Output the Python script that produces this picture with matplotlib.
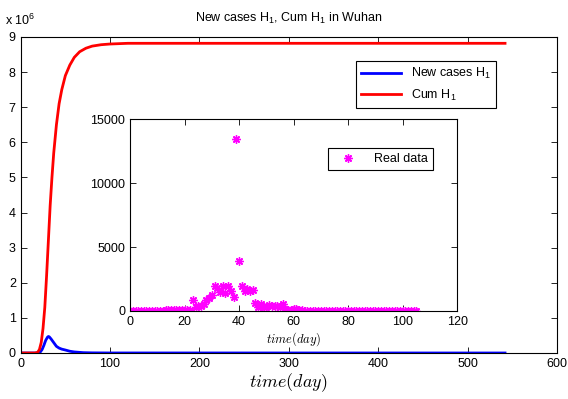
import matplotlib
matplotlib.use("Agg")
import matplotlib.pyplot as plt

plt.rcParams["font.family"] = ["Liberation Sans", "DejaVu Sans"]
plt.rcParams["mathtext.fontset"] = "custom"
plt.rcParams["mathtext.rm"] = "Liberation Sans"
plt.rcParams["mathtext.it"] = "Liberation Sans:italic"
plt.rcParams["mathtext.default"] = "it"

# model curves (values in millions, main axis shows x 10^6)
cum_days = [0, 16, 19, 21, 23, 25, 27, 29, 31, 33, 35, 37, 40, 43, 46, 50,
            55, 60, 66, 73, 80, 90, 100, 120, 150, 542]
cum_h1 = [0, 0, 0.02, 0.1, 0.3, 0.7, 1.3, 2.2, 3.2, 4.2, 5.0, 5.7, 6.5, 7.1,
          7.5, 7.9, 8.2, 8.42, 8.58, 8.68, 8.74, 8.78, 8.80, 8.82, 8.82, 8.82]

new_days = [0, 17, 20, 22, 24, 26, 28, 30, 31, 32, 34, 36, 38, 40, 43, 46,
            50, 55, 60, 70, 80, 100, 542]
new_h1 = [0, 0, 0.005, 0.03, 0.1, 0.22, 0.36, 0.45, 0.47, 0.46, 0.40, 0.33,
          0.26, 0.19, 0.14, 0.11, 0.085, 0.05, 0.03, 0.01, 0.004, 0.001, 0]

# reported daily new cases in Wuhan, day 0..105
real_days = list(range(106))
real_cases = [0, 0, 0, 0, 0, 0, 0, 0, 0, 0, 0,
              4, 17, 59, 77, 72, 105, 62, 70, 77, 46, 80, 80,
              892, 315, 356, 378, 576, 894, 1033, 1242, 1967, 1766, 1501,
              1985, 1379, 1920, 1552, 1104, 13436, 3910, 1923, 1548, 1690,
              1600, 1660, 615, 319, 541, 348, 348, 499, 401, 400, 409, 318,
              565, 193, 111, 114, 131, 126, 74, 41, 36, 17, 13, 8, 5, 4, 4,
              2, 1, 1] + [0] * 32

fig = plt.figure(figsize=(5.68, 3.99), dpi=100)
ax = fig.add_axes([0.0364, 0.1153, 0.944, 0.792])

ax.plot(new_days, new_h1, color="#0000ff", lw=2, label=r"New cases H$_\mathrm{1}$")
ax.plot(cum_days, cum_h1, color="#ff0000", lw=2, label=r"Cum H$_\mathrm{1}$")
ax.set_xlim(0, 600)
ax.set_ylim(0, 9)
ax.set_xticks(range(0, 601, 100))
ax.set_yticks(range(0, 10))
ax.tick_params(direction="in", top=True, right=True, labelsize=9, length=4, width=0.6)
ax.set_xlabel("$time(day)$", fontsize=13, labelpad=1, math_fontfamily="cm")
ax.set_title(r"New cases H$_\mathrm{1}$, Cum H$_\mathrm{1}$ in Wuhan", fontsize=9, pad=11)
ax.text(-0.03, 1.03, r"x 10$^\mathrm{6}$", transform=ax.transAxes, fontsize=9,
        ha="left", va="bottom")
for s in ax.spines.values():
    s.set_linewidth(0.8)

leg = ax.legend(loc="upper right", bbox_to_anchor=(0.898, 0.943), fontsize=9,
                fancybox=False, edgecolor="black", framealpha=1,
                handlelength=3.2, borderpad=0.4, labelspacing=0.5)
leg.get_frame().set_linewidth(0.8)

# inset with real data
axin = fig.add_axes([0.229, 0.2206, 0.576, 0.481])
axin.plot(real_days, real_cases, linestyle="none", marker=(8, 2, 0),
          markersize=6, markeredgewidth=1, color="#ff00ff",
          markeredgecolor="#ff00ff", label="Real data")
axin.set_xlim(0, 120)
axin.set_ylim(0, 15000)
axin.set_xticks(range(0, 121, 20))
axin.set_yticks([0, 5000, 10000, 15000])
axin.tick_params(direction="in", top=True, right=True, labelsize=9, length=4, width=0.6)
axin.set_xlabel("$time(day)$", fontsize=9, labelpad=2, math_fontfamily="cm")
for s in axin.spines.values():
    s.set_linewidth(0.8)

leg2 = axin.legend(loc="upper right", bbox_to_anchor=(0.945, 0.88), fontsize=9,
                   fancybox=False, edgecolor="black", framealpha=1,
                   handlelength=2.5, borderpad=0.4)
leg2.get_frame().set_linewidth(0.8)

fig.savefig("out.png", dpi=100)
